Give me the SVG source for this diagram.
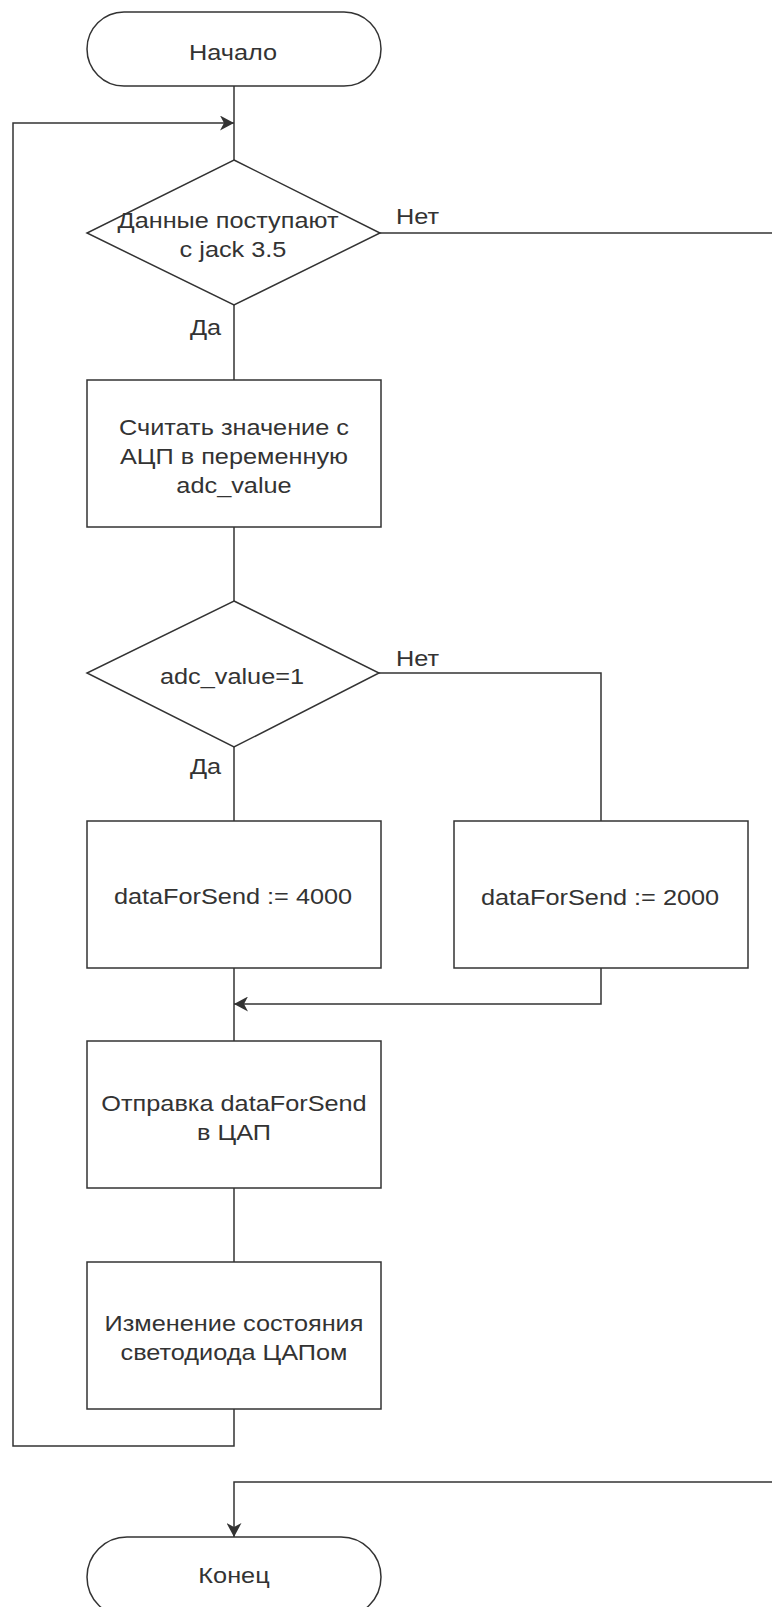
<svg xmlns="http://www.w3.org/2000/svg" width="772" height="1607" viewBox="0 0 772 1607">
<style>
.s{fill:#fff;stroke:#333;stroke-width:1.5}
.c{fill:none;stroke:#333;stroke-width:1.5}
text{font-family:"Liberation Sans",Arial,sans-serif;font-size:22px;fill:#333;text-anchor:middle}
.l{text-anchor:start}
</style>
<defs>
<marker id="a" viewBox="0 0 14 15" refX="14" refY="7.5" markerWidth="14" markerHeight="15" markerUnits="userSpaceOnUse" orient="auto">
<path d="M0,0 L14,7.5 L0,15 L4,7.5 Z" fill="#333"/>
</marker>
</defs>
<rect width="772" height="1607" fill="#fff"/>
<g id="connectors">
<path class="c" d="M234,86 V160"/>
<path class="c" d="M234,305 V380"/>
<path class="c" d="M234,527 V601"/>
<path class="c" d="M234,747 V821"/>
<path class="c" d="M234,968 V1041"/>
<path class="c" d="M234,1188 V1262"/>
<path class="c" d="M234,1409 V1446 H13 V123 H234" marker-end="url(#a)"/>
<path class="c" d="M380,233 H772"/>
<path class="c" d="M379,673 H601 V821"/>
<path class="c" d="M601,968 V1004 H234" marker-end="url(#a)"/>
<path class="c" d="M772,1482 H234 V1537" marker-end="url(#a)"/>
<text class="l" transform="matrix(1.15 0 0 1 396 0)" x="0" y="224">Нет</text>
<text class="l" transform="matrix(1.15 0 0 1 396 0)" x="0" y="666">Нет</text>
<text class="l" transform="matrix(1.15 0 0 1 190 0)" x="0" y="335">Да</text>
<text class="l" transform="matrix(1.15 0 0 1 190 0)" x="0" y="774">Да</text>
</g>
<g id="start">
<rect class="s" x="87" y="12" width="294" height="74" rx="37"/>
<text transform="matrix(1.15 0 0 1 233 0)" x="0" y="60">Начало</text>
</g>
<g id="cond1">
<polygon class="s" points="234,160 380,233 234,305 87,233"/>
<text transform="matrix(1.15 0 0 1 228 0)" x="0" y="228">Данные поступают</text>
<text transform="matrix(1.15 0 0 1 233 0)" x="0" y="257">с jack 3.5</text>
</g>
<g id="read">
<rect class="s" x="87" y="380" width="294" height="147"/>
<text transform="matrix(1.15 0 0 1 234 0)" x="0" y="435">Считать значение с</text>
<text transform="matrix(1.15 0 0 1 234 0)" x="0" y="464">АЦП в переменную</text>
<text transform="matrix(1.15 0 0 1 234 0)" x="0" y="493">adc_value</text>
</g>
<g id="cond2">
<polygon class="s" points="234,601 379,673 234,747 87,673"/>
<text transform="matrix(1.15 0 0 1 232 0)" x="0" y="684">adc_value=1</text>
</g>
<g id="set4000">
<rect class="s" x="87" y="821" width="294" height="147"/>
<text transform="matrix(1.15 0 0 1 233 0)" x="0" y="904">dataForSend := 4000</text>
</g>
<g id="set2000">
<rect class="s" x="454" y="821" width="294" height="147"/>
<text transform="matrix(1.15 0 0 1 600 0)" x="0" y="905">dataForSend := 2000</text>
</g>
<g id="send">
<rect class="s" x="87" y="1041" width="294" height="147"/>
<text transform="matrix(1.15 0 0 1 234 0)" x="0" y="1111">Отправка dataForSend</text>
<text transform="matrix(1.15 0 0 1 234 0)" x="0" y="1140">в ЦАП</text>
</g>
<g id="led">
<rect class="s" x="87" y="1262" width="294" height="147"/>
<text transform="matrix(1.15 0 0 1 234 0)" x="0" y="1331">Изменение состояния</text>
<text transform="matrix(1.15 0 0 1 234 0)" x="0" y="1360">светодиода ЦАПом</text>
</g>
<g id="end">
<rect class="s" x="87" y="1537" width="294" height="80" rx="40"/>
<text transform="matrix(1.15 0 0 1 234 0)" x="0" y="1583">Конец</text>
</g>
</svg>
